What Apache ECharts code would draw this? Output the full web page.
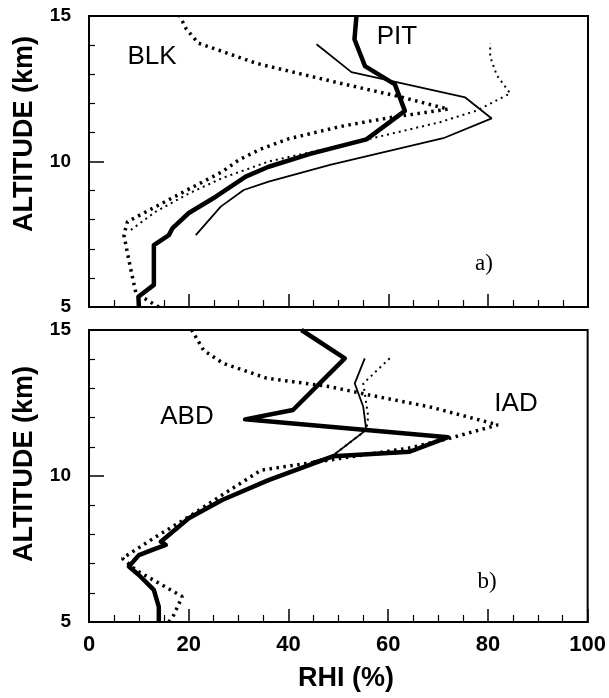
<!DOCTYPE html>
<html>
<head>
<meta charset="utf-8">
<script src="https://cdn.jsdelivr.net/npm/echarts@6/dist/echarts.min.js"></script>
<style>
html,body{margin:0;padding:0;background:#fff;}
#chart{width:609px;height:698px;}
</style>
</head>
<body>
<div id="chart"></div>
<script>
// ---- Data: [RHI (%), altitude (km)] ----
// Panel a)
var blkThickDotted = [[14,5.0],[9.4,5.47],[8,6.6],[7,7.47],[7.7,7.93],[13.4,8.45],[20,9.05],[26.7,9.65],[30,10.05],[34.3,10.42],[40,10.78],[50.3,11.2],[60,11.5],[72,11.8],[61.7,12.25],[50.3,12.69],[33.6,13.37],[21.9,14.07],[19.5,14.55],[18.2,15.0]];
var pitThinDotted = [[8.4,7.65],[13.4,8.28],[20,8.9],[26.7,9.43],[36,10.0],[54.3,10.7],[70.3,11.35],[77.7,11.75],[84.4,12.34],[81.7,12.97],[80.4,13.6],[80.4,14.06]];
var aThickSolid = [[10,5.0],[9.9,5.35],[13,5.76],[13,7.13],[16,7.47],[16.7,7.7],[20,8.23],[25.4,8.79],[31.4,9.48],[36,9.82],[44.3,10.26],[55.6,10.76],[63.3,11.74],[61.3,12.65],[55.3,13.28],[53.2,14.2],[53.6,15.0]];
var aThinSolid = [[21.4,7.47],[26.4,8.45],[31,9.02],[36,9.31],[48.3,9.88],[71,10.8],[80.7,11.48],[75.4,12.2],[52.6,13.07],[45.6,14.03]];
// Panel b)
var abdThickSolid = [[14,5.0],[14,5.52],[13,6.1],[10,6.61],[8,6.9],[10,7.29],[12.7,7.47],[15.4,7.64],[14.4,7.75],[20,8.55],[26.7,9.18],[36,9.86],[49,10.68],[64.3,10.83],[72,11.33],[31.3,11.94],[40.9,12.26],[51.3,14.03],[42.6,15.0]];
var bThinSolid = [[55.3,14.03],[53.3,13.17],[55,12.37],[55.6,11.58],[48.6,10.66],[45,10.5]];
var bThinDotted = [[60.3,14.03],[55,13.17],[56,12.03],[55.6,11.58],[48.6,10.66],[45,10.5]];
var iadThickDotted = [[16,5.0],[17,5.24],[18.7,5.87],[9.4,6.78],[6.7,7.18],[13.4,7.92],[20,8.6],[26.7,9.35],[32.5,9.98],[34.5,10.2],[50.3,10.6],[64,10.95],[72.3,11.29],[82,11.75],[68.3,12.37],[56.3,12.77],[48.3,13.06],[35.6,13.35],[26.9,13.86],[23,14.3],[20.6,15.0]];

var xTicks = [0,20,40,60,80,100];
var yTicks = [5,10,15];

var chart = echarts.init(document.getElementById('chart'), null, {renderer:'canvas'});
var FONT = '"Liberation Sans", Arial, Helvetica, sans-serif';

function xAxisCfg(idx, showLabels){
  return {
    type:'value', gridIndex:idx, min:xTicks[0], max:xTicks[xTicks.length-1], interval:20,
    axisLine:{show:true, onZero:false, lineStyle:{color:'#000', width:2}},
    axisTick:{show:true, inside:true, length:13, lineStyle:{color:'#000', width:1.5}},
    minorTick:{show:true, splitNumber:4, length:7, lineStyle:{color:'#000', width:1.2}},
    splitLine:{show:false},
    axisLabel:{show:showLabels, color:'#000', fontFamily:FONT, fontWeight:'bold', fontSize:22, margin:12, showMinLabel:true, showMaxLabel:true}
  };
}
function yAxisCfg(idx){
  return {
    type:'value', gridIndex:idx, min:yTicks[0], max:yTicks[yTicks.length-1], interval:5,
    axisLine:{show:true, onZero:false, lineStyle:{color:'#000', width:2}},
    axisTick:{show:true, inside:true, length:15, lineStyle:{color:'#000', width:1.5}},
    minorTick:{show:true, splitNumber:5, length:6, lineStyle:{color:'#000', width:1.2}},
    splitLine:{show:false},
    axisLabel:{show:true, color:'#000', fontFamily:FONT, fontWeight:'bold', fontSize:19, margin:18, showMinLabel:true, showMaxLabel:true}
  };
}
function line(name, data, gi, style){
  return {
    name:name, type:'line', xAxisIndex:gi, yAxisIndex:gi, data:data,
    showSymbol:false, symbol:'none', animation:false, silent:true,
    lineStyle:style
  };
}
var thickSolid = {color:'#000', width:4.5, type:'solid', join:'round'};
var thinSolid = {color:'#000', width:1.8, type:'solid'};
var thickDot = {color:'#000', width:3.5, type:[2.5,4.5], cap:'butt'};
var thinDot = {color:'#000', width:2, type:[2,4], cap:'butt'};

function txt(x, y, s, font, rot){
  return {type:'text', x:x, y:y, rotation:rot||0, silent:true,
    style:{text:s, font:font, fill:'#000', align:'center', verticalAlign:'middle', textAlign:'center', textVerticalAlign:'middle'}};
}

var option = {
  backgroundColor:'#fff',
  animation:false,
  grid:[
    {left:89, top:16, width:499, height:291, show:true, borderColor:'#000', borderWidth:2, backgroundColor:'transparent'},
    {left:89, top:330, width:499, height:292, show:true, borderColor:'#000', borderWidth:2, backgroundColor:'transparent'}
  ],
  xAxis:[xAxisCfg(0,false), xAxisCfg(1,true)],
  yAxis:[yAxisCfg(0), yAxisCfg(1)],
  series:[
    line('BLK', blkThickDotted, 0, thickDot),
    line('PIT', pitThinDotted, 0, thinDot),
    line('a thick', aThickSolid, 0, thickSolid),
    line('a thin', aThinSolid, 0, thinSolid),
    line('IAD', iadThickDotted, 1, thickDot),
    line('b thin dotted', bThinDotted, 1, thinDot),
    line('b thin', bThinSolid, 1, thinSolid),
    line('ABD', abdThickSolid, 1, thickSolid)
  ],
  graphic:[
    txt(25, 134, 'ALTITUDE (km)', 'bold 27px ' + FONT, Math.PI/2),
    txt(25, 464, 'ALTITUDE (km)', 'bold 27px ' + FONT, Math.PI/2),
    txt(346, 679, 'RHI (%)', 'bold 27px ' + FONT, 0),
    txt(152, 57, 'BLK', '26px ' + FONT, 0),
    txt(397, 37, 'PIT', '26px ' + FONT, 0),
    txt(187, 417, 'ABD', '26px ' + FONT, 0),
    txt(516, 404, 'IAD', '26px ' + FONT, 0),
    txt(484, 264, 'a)', '23px "Liberation Serif", "Times New Roman", serif', 0),
    txt(487, 582, 'b)', '23px "Liberation Serif", "Times New Roman", serif', 0)
  ]
};
chart.setOption(option);
</script>
</body>
</html>
